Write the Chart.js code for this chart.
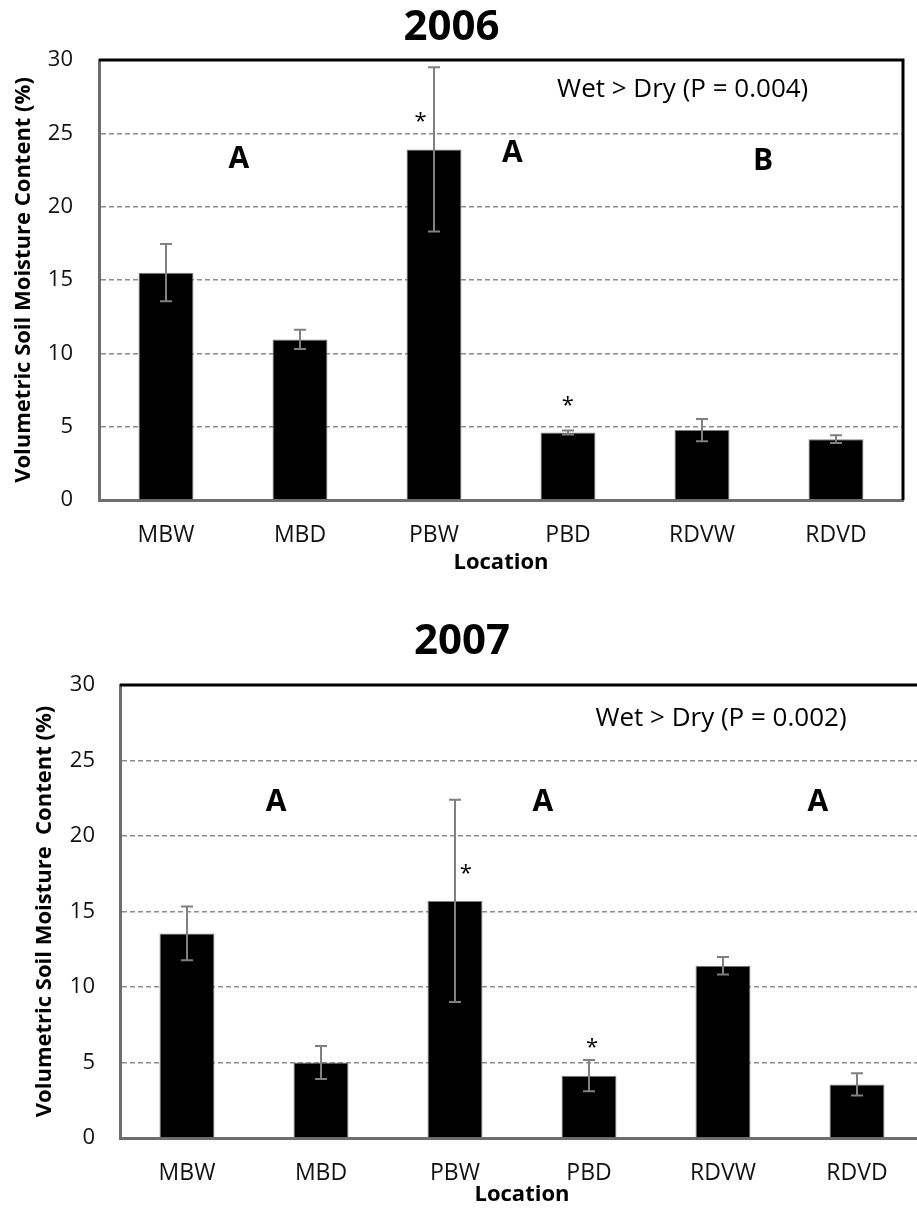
<!DOCTYPE html>
<html>
<head>
<meta charset="utf-8">
<script src="https://cdn.jsdelivr.net/npm/chart.js@4.4.1/dist/chart.umd.min.js"></script>
<style>
  html, body { margin: 0; padding: 0; background: #fff; overflow: hidden; width: 917px; height: 1209px; }
  #c2006 { position: absolute; left: 0; top: 0; }
  #c2007 { position: absolute; left: 0; top: 600px; }
</style>
</head>
<body>
<canvas id="c2006" width="917" height="590"></canvas>
<canvas id="c2007" width="930" height="609"></canvas>
<script>
const locations = ['MBW', 'MBD', 'PBW', 'PBD', 'RDVW', 'RDVD']
const yTicks = [0, 5, 10, 15, 20, 25, 30]

const moisture2006 = [15.5, 10.95, 23.9, 4.6, 4.77, 4.15]
const error2006 = [1.95, 0.65, 5.6, 0.14, 0.76, 0.26]

const moisture2007 = [13.55, 5.0, 15.7, 4.13, 11.4, 3.55]
const error2007 = [1.78, 1.1, 6.7, 1.03, 0.58, 0.74]

const FONT = '"Open Sans"'
Chart.defaults.font.family = FONT
Chart.defaults.color = '#111'

// error bars, drawn on top of the bars
const errorBars = {
  id: 'errorBars',
  afterDatasetsDraw(chart) {
    const { ctx, scales: { y } } = chart
    chart.data.datasets.forEach((ds, di) => {
      const meta = chart.getDatasetMeta(di)
      ctx.save()
      ctx.strokeStyle = '#808080'
      ctx.lineWidth = 2
      meta.data.forEach((bar, i) => {
        const e = ds.errors[i]
        const top = y.getPixelForValue(ds.data[i] + e)
        const bot = y.getPixelForValue(ds.data[i] - e)
        ctx.beginPath()
        ctx.moveTo(bar.x, top); ctx.lineTo(bar.x, bot)
        ctx.moveTo(bar.x - 6, top); ctx.lineTo(bar.x + 6, top)
        ctx.moveTo(bar.x - 6, bot); ctx.lineTo(bar.x + 6, bot)
        ctx.stroke()
      })
      ctx.restore()
    })
  },
}

// black frame on top and right of the plot
const frame = {
  id: 'frame',
  afterDraw(chart) {
    const { ctx, chartArea: a } = chart
    ctx.save()
    ctx.strokeStyle = '#000'
    ctx.lineWidth = 3
    ctx.beginPath()
    ctx.moveTo(a.left, a.top); ctx.lineTo(a.right, a.top); ctx.lineTo(a.right, a.bottom)
    ctx.stroke()
    ctx.restore()
  },
}

// text notes placed by fraction of plot width and y value
const notes = {
  id: 'notes',
  afterDatasetsDraw(chart, args, opts) {
    const { ctx, chartArea: a, scales: { y } } = chart
    ctx.save()
    ctx.fillStyle = '#000'
    ctx.textAlign = 'center'
    ctx.textBaseline = 'middle'
    for (const n of opts.items) {
      ctx.font = n.font
      ctx.fillText(n.text, a.left + n.fx * (a.right - a.left), y.getPixelForValue(n.y))
    }
    ctx.restore()
  },
}

function moistureChart(id, year, values, errors, lay, items) {
  return new Chart(document.getElementById(id), {
    type: 'bar',
    data: {
      labels: locations,
      datasets: [{
        data: values,
        errors: errors,
        backgroundColor: '#000',
        borderColor: '#7f7f7f',
        borderWidth: 1,
        categoryPercentage: 1,
        barPercentage: 0.41,
      }],
    },
    options: {
      responsive: false,
      animation: false,
      events: [],
      layout: { padding: { top: 0, left: 0, right: lay.padRight, bottom: 0 } },
      plugins: {
        legend: { display: false },
        tooltip: { enabled: false },
        title: {
          display: true,
          text: year,
          color: '#000',
          font: { size: 42, weight: 'bold' },
          padding: lay.titlePad,
        },
        notes: { items },
      },
      scales: {
        x: {
          grid: { display: false, drawTicks: false },
          border: { color: '#6e6e6e', width: 3 },
          ticks: { font: { size: 23 }, color: '#111', padding: lay.xTickPad },
          title: { display: true, text: 'Location', color: '#000', font: { size: 22, weight: 'bold' }, padding: { top: 0, bottom: lay.xTitleBottom } },
          afterFit: s => { s.height = lay.xHeight },
        },
        y: {
          min: 0,
          max: 30,
          afterBuildTicks: s => { s.ticks = yTicks.map(v => ({ value: v })) },
          grid: {
            drawTicks: false,
            lineWidth: 1.5,
            color: c => (c.tick.value === 0 || c.tick.value === 30) ? 'rgba(0,0,0,0)' : '#8c8c8c',
          },
          border: { color: '#6e6e6e', width: 3, dash: [5, 3] },
          ticks: { font: { size: 22 }, color: '#111', padding: lay.yTickPad },
          title: { display: true, text: lay.yTitle, color: '#000', font: { size: 22, weight: 'bold' }, padding: { top: lay.yTitleTop, bottom: 0 } },
          afterFit: s => { s.width = lay.yWidth },
        },
      },
    },
    plugins: [errorBars, notes, frame],
  })
}

moistureChart('c2006', '2006', moisture2006, error2006, {
  padRight: 14, titlePad: { top: 2.8, bottom: 6.8 }, xHeight: 90, xTickPad: 21.2, xTitleBottom: 13.8,
  yWidth: 99, yTickPad: 26, yTitleTop: 10.8,
  yTitle: 'Volumetric Soil Moisture Content (%)',
}, [
  { text: 'Wet > Dry (P = 0.004)', fx: 0.726, y: 28.0, font: '26px ' + FONT },
  { text: 'A', fx: 0.174, y: 23.25, font: 'bold 30px ' + FONT },
  { text: 'A', fx: 0.514, y: 23.6, font: 'bold 30px ' + FONT },
  { text: 'B', fx: 0.826, y: 23.05, font: 'bold 30px ' + FONT },
  { text: '*', fx: 0.4, y: 25.8, font: '22px ' + FONT },
  { text: '*', fx: 0.583, y: 6.4, font: '22px ' + FONT },
])

moistureChart('c2007', '2007', moisture2007, error2007, {
  padRight: 6, titlePad: { top: 16.8, bottom: 17.8 }, xHeight: 71, xTickPad: 21.2, xTitleBottom: 0.8,
  yWidth: 120, yTickPad: 25, yTitleTop: 31.8,
  yTitle: 'Volumetric Soil Moisture  Content (%)',
}, [
  { text: 'Wet > Dry (P = 0.002)', fx: 0.7475, y: 27.8, font: '26px ' + FONT },
  { text: 'A', fx: 0.194, y: 22.25, font: 'bold 30px ' + FONT },
  { text: 'A', fx: 0.526, y: 22.25, font: 'bold 30px ' + FONT },
  { text: 'A', fx: 0.868, y: 22.25, font: 'bold 30px ' + FONT },
  { text: '*', fx: 0.43, y: 17.5, font: '22px ' + FONT },
  { text: '*', fx: 0.587, y: 5.95, font: '22px ' + FONT },
])
</script>
</body>
</html>
